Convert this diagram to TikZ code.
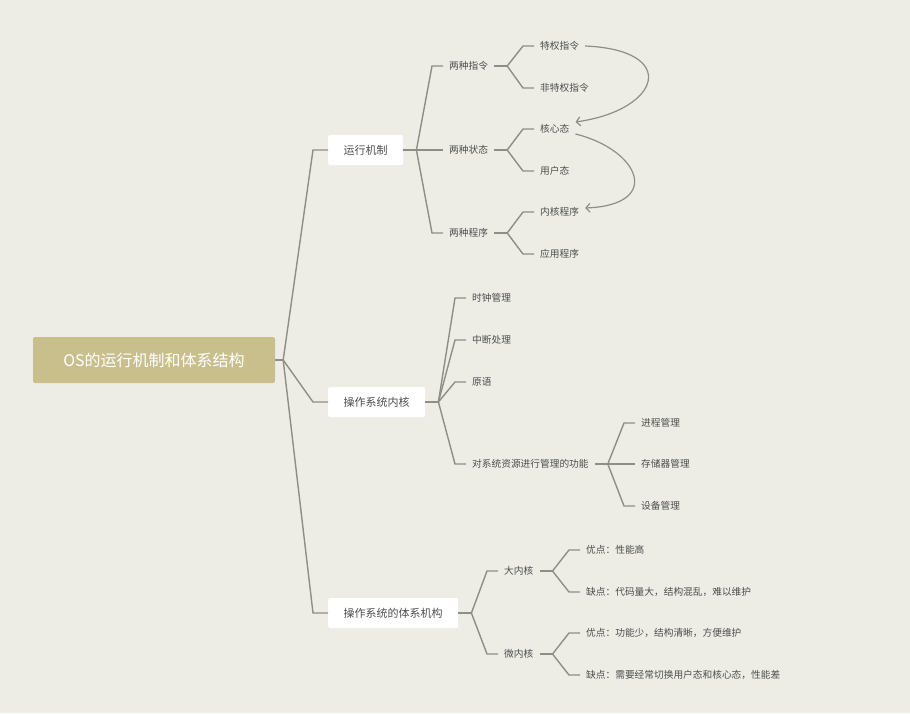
\documentclass[tikz,border=0pt]{standalone}
\usepackage{fontspec}
\setmainfont{Noto Sans CJK SC}
\usetikzlibrary{arrows.meta}
\definecolor{paper}{HTML}{EDEDE6}
\definecolor{linegray}{HTML}{8E8E88}
\definecolor{ink}{HTML}{4D4D4D}
\definecolor{gold}{HTML}{C9BF8D}
\tikzset{
  rootbox/.style={fill=gold, rounded corners=2pt, text=white, font=\fontsize{16}{16}\selectfont, minimum width=242pt, minimum height=46pt},
  topicbox/.style={fill=white, rounded corners=2pt, text=ink, font=\fontsize{11}{11}\selectfont, inner xsep=15.5pt, minimum height=30pt, anchor=west},
  leaf/.style={text=ink, font=\fontsize{9.7}{10}\selectfont, inner xsep=6pt, inner ysep=2pt, anchor=west},
  branch/.style={draw=linegray, line width=1.4pt},
  modearrow/.style={draw=linegray, line width=1.2pt, -{Straight Barb[length=4pt,width=9pt]}}
}
\begin{document}
\begin{tikzpicture}[x=1pt,y=-1pt]
  \fill[paper] (0,0) rectangle (910,713);
  \useasboundingbox (0,0) rectangle (910,713);
  % root and topics
  \node[rootbox] (os) at (154,360) {OS的运行机制和体系结构};
  \node[topicbox] (run) at (328,150) {运行机制};
  \node[topicbox] (kernel) at (328,402) {操作系统内核};
  \node[topicbox] (arch) at (328,613) {操作系统的体系机构};
  % subtopics
  \foreach \n/\x/\y/\t in {ins/443/66/两种指令, sta/443/150/两种状态, prg/443/233/两种程序, clk/466/298/时钟管理, irq/466/340/中断处理, prim/466/382/原语, res/466/464/对系统资源进行管理的功能, mono/498/571/大内核, micro/498/654/微内核}
    \node[leaf] (\n) at (\x,\y) {\t};
  % leaves
  \foreach \n/\x/\y/\t in {priv/534/46/特权指令, npriv/534/88/非特权指令, kern/534/129/核心态, user/534/171/用户态, kprg/534/212/内核程序, aprg/534/254/应用程序, proc/635/423/进程管理, mem/635/464/存储器管理, dev/635/506/设备管理, mpro/580/550/优点：性能高, mcon/580/592/缺点：代码量大，结构混乱，难以维护, upro/580/633/优点：功能少，结构清晰，方便维护, ucon/580/675/缺点：需要经常切换用户态和核心态，性能差}
    \node[leaf] (\n) at (\x,\y) {\t};
  % root branches
  \coordinate (osj) at ([xshift=8pt]os.east);
  \draw[branch] (os.east) -- (osj);
  \foreach \c in {run, kernel, arch}
    \draw[branch] (osj) -- ([xshift=-15pt]\c.west) -- (\c.west);
  % run branches
  \draw[branch] (run.east) -- ([xshift=13pt]run.east);
  \foreach \c in {ins, sta, prg}
    \draw[branch] ([xshift=13pt]run.east) -- ([xshift=-11pt]\c.west) -- (\c.west);
  \draw[branch] (ins.east) -- ([xshift=13pt]ins.east);
  \foreach \c in {priv, npriv}
    \draw[branch] ([xshift=13pt]ins.east) -- ([xshift=-11pt]\c.west) -- (\c.west);
  \draw[branch] (sta.east) -- ([xshift=13pt]sta.east);
  \foreach \c in {kern, user}
    \draw[branch] ([xshift=13pt]sta.east) -- ([xshift=-11pt]\c.west) -- (\c.west);
  \draw[branch] (prg.east) -- ([xshift=13pt]prg.east);
  \foreach \c in {kprg, aprg}
    \draw[branch] ([xshift=13pt]prg.east) -- ([xshift=-11pt]\c.west) -- (\c.west);
  % kernel branches
  \draw[branch] (kernel.east) -- ([xshift=13pt]kernel.east);
  \foreach \c in {clk, irq, prim, res}
    \draw[branch] ([xshift=13pt]kernel.east) -- ([xshift=-11pt]\c.west) -- (\c.west);
  \draw[branch] (res.east) -- ([xshift=13pt]res.east);
  \foreach \c in {proc, mem, dev}
    \draw[branch] ([xshift=13pt]res.east) -- ([xshift=-11pt]\c.west) -- (\c.west);
  % arch branches
  \draw[branch] (arch.east) -- ([xshift=13pt]arch.east);
  \foreach \c in {mono, micro}
    \draw[branch] ([xshift=13pt]arch.east) -- ([xshift=-11pt]\c.west) -- (\c.west);
  \draw[branch] (mono.east) -- ([xshift=13pt]mono.east);
  \foreach \c in {mpro, mcon}
    \draw[branch] ([xshift=13pt]mono.east) -- ([xshift=-11pt]\c.west) -- (\c.west);
  \draw[branch] (micro.east) -- ([xshift=13pt]micro.east);
  \foreach \c in {upro, ucon}
    \draw[branch] ([xshift=13pt]micro.east) -- ([xshift=-11pt]\c.west) -- (\c.west);
  % mode arrows
  \draw[modearrow] (priv.east) .. controls (680,50) and (661,110) .. ([yshift=7pt]kern.east);
  \draw[modearrow] ([yshift=-5pt]kern.east) .. controls (640,150) and (663,205) .. ([yshift=4pt]kprg.east);
\end{tikzpicture}
\end{document}
